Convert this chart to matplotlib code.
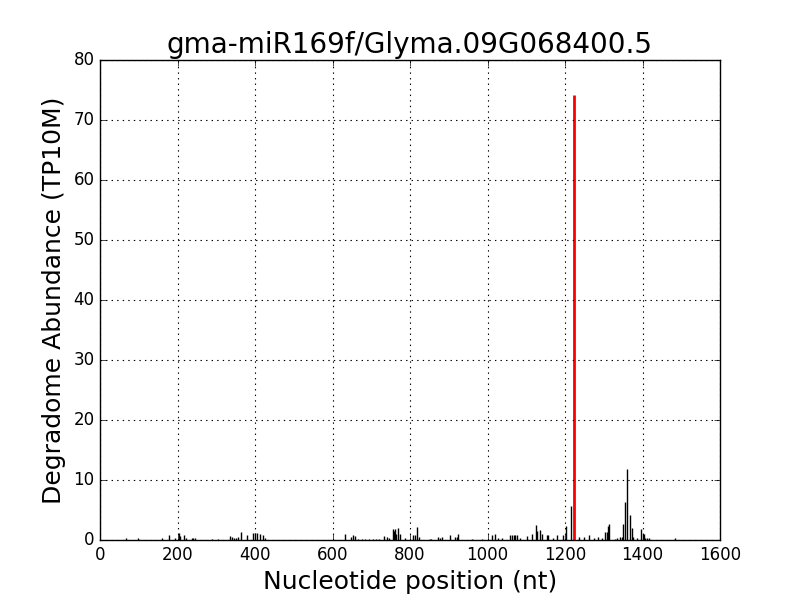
import matplotlib
matplotlib.use("Agg")
import matplotlib.pyplot as plt

plt.style.use("classic")

TITLE = "gma-miR169f/Glyma.09G068400.5"

# degradome reads (position nt, abundance TP10M)
positions = [67, 97, 160, 178, 194, 203, 206, 218, 222, 237, 241, 245,
             288, 305, 336, 340, 345, 350, 355, 363, 379, 395, 400, 405, 413, 421, 425,
             632, 647, 652, 658, 665, 675, 685, 695, 705, 712, 720, 733, 740, 745,
             755, 758, 761, 764, 769, 773, 787, 809, 813, 819, 823,
             851, 855, 872, 877, 882, 903, 916, 921, 925, 959, 985,
             1011, 1020, 1028, 1037, 1058, 1063, 1068, 1072, 1076, 1083, 1101, 1114, 1125, 1129,
             1135, 1140, 1153, 1157, 1170, 1180, 1196, 1203, 1215,
             1236, 1250, 1263, 1274, 1284, 1295, 1303, 1308, 1312, 1314,
             1330, 1335, 1342, 1346, 1349, 1355, 1361, 1368, 1372, 1376, 1385,
             1396, 1400, 1404, 1407, 1412, 1416, 1484]
abundance = [0.3, 0.3, 0.3, 0.8, 0.3, 1.1, 0.6, 0.8, 0.3, 0.3, 0.3, 0.3,
             0.2, 0.2, 0.6, 0.5, 0.3, 0.3, 0.5, 1.3, 0.8, 1.2, 1.1, 1.2, 1.0, 0.8, 0.3,
             1.0, 0.5, 0.8, 0.7, 0.2, 0.2, 0.2, 0.2, 0.2, 0.2, 0.2, 0.6, 0.5, 0.3,
             1.8, 1.5, 1.8, 1.0, 2.0, 1.0, 0.3, 0.8, 0.8, 2.2, 0.5,
             0.2, 0.2, 0.5, 0.4, 0.5, 0.8, 0.5, 0.5, 1.0, 0.2, 0.2,
             0.8, 1.0, 0.3, 0.3, 0.8, 0.8, 0.8, 0.8, 0.8, 0.3, 0.6, 1.0, 2.5, 1.5,
             1.7, 1.0, 0.8, 0.8, 0.3, 0.8, 0.8, 2.3, 5.7,
             0.5, 0.5, 0.8, 0.3, 0.5, 0.3, 1.3, 1.3, 2.3, 2.6,
             0.2, 0.3, 0.5, 0.5, 2.6, 6.4, 11.8, 4.2, 2.0, 0.5, 0.3,
             1.8, 1.0, 1.0, 0.3, 0.3, 0.3, 0.3]

# cleavage site of the miRNA target
site_pos = [1223]
site_abundance = [74.2]

fig = plt.figure(figsize=(8, 6), dpi=100, facecolor="white")
ax = fig.add_subplot(111)
fig.subplots_adjust(left=0.125, right=0.9, bottom=0.1, top=0.9)

ax.vlines(positions, 0, abundance, colors="black", linewidth=1.0)
ax.vlines(site_pos, 0, site_abundance, colors="red", linewidth=2)

ax.set_xlim(0, 1600)
ax.set_ylim(0, 80)
ax.grid(True, color="black", linestyle=":", linewidth=0.8)
ax.set_title(TITLE, fontsize=20)
ax.set_xlabel("Nucleotide position (nt)", fontsize=18)
ax.set_ylabel("Degradome Abundance (TP10M)", fontsize=18)
ax.tick_params(labelsize=12)

plt.savefig("out.png", dpi=100, facecolor="white")
plt.close()
